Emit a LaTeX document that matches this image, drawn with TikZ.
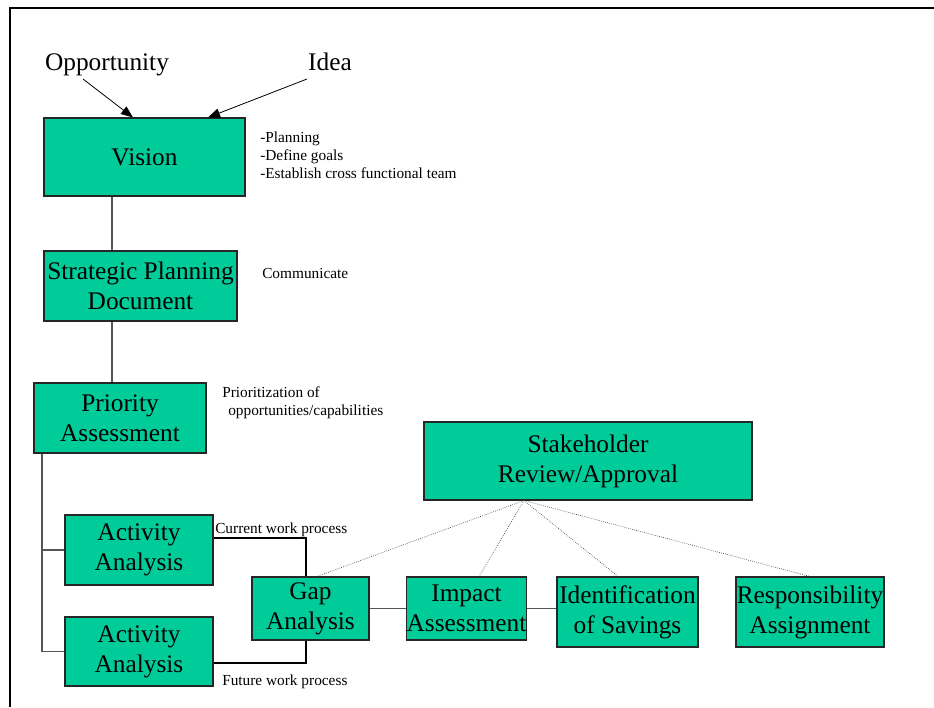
\documentclass[tikz,border=0pt]{standalone}
\usepackage{fontspec}
\setmainfont{Liberation Serif}
\usepackage{tikz}
\usetikzlibrary{arrows.meta, positioning, calc}
\definecolor{boxgreen}{HTML}{00CC99}
\definecolor{edge}{HTML}{555555}
\newcommand{\bigtxt}{\fontsize{19pt}{22.5pt}\selectfont}
\newcommand{\smalltxt}{\fontsize{11.5pt}{13.5pt}\selectfont}
\tikzset{
  blkstage/.style = {draw=black!85, line width=0.8pt, fill=boxgreen,
                     inner sep=0pt, font=\bigtxt, align=center},
  blktxt/.style   = {inner sep=0pt, font=\bigtxt, anchor=base},
  note/.style     = {inner sep=0pt, font=\smalltxt, align=left, anchor=west},
  flow/.style     = {-{Triangle[length=9pt, width=7pt]}, line width=0.6pt},
  link/.style     = {draw=edge, line width=1.1pt},
  elbow/.style    = {line width=0.8pt},
  review/.style   = {densely dotted, line width=0.5pt, draw=black!75},
}

\begin{document}
\begin{tikzpicture}[x=0.75pt, y=-0.75pt]
    \useasboundingbox (0,0) rectangle (934,707);
    % page frame
    \draw[line width=1.5pt] (10,707) -- (10,8) -- (934,8);

    % Column : vision -> priority
    \node[blktxt]                                   (opp)    at (107,70)    {Opportunity};
    \node[blktxt]                                   (idea)   at (330,70)    {Idea};
    \node[blkstage, minimum width=150.75pt, minimum height=58.5pt]  (vision) at (144.5,157) {Vision};
    \node[blkstage, minimum width=144.75pt, minimum height=52.5pt]  (spd)    at (140.5,286) {Strategic Planning\\Document};
    \node[blkstage, minimum width=129pt, minimum height=52.5pt]     (prio)   at (120,418)   {Priority\\Assessment};
    \node[blkstage, minimum width=111pt, minimum height=52.5pt]     (act1)   at (139,550)   {Activity\\Analysis};
    \node[blkstage, minimum width=111pt, minimum height=51.75pt]    (act2)   at (139,651.5) {Activity\\Analysis};

    % Row : gap -> responsibility
    \node[blkstage, minimum width=87.75pt, minimum height=47.25pt]  (gap)    at (310.5,608.5) {Gap\\Analysis};
    \node[blkstage, minimum width=87.75pt, minimum height=47.25pt]  (impact) at (466.5,608.5) {Impact\\Assessment};
    \node[blkstage, minimum width=105.75pt, minimum height=52.5pt]  (ident)  at (627.5,612)   {Identification\\of Savings};
    \node[blkstage, minimum width=111pt, minimum height=52.5pt]     (resp)   at (810,612)     {Responsibility\\Assignment};
    \node[blkstage, minimum width=246pt, minimum height=58.5pt]     (stake)  at (588,461)     {Stakeholder\\Review/Approval};
    \coordinate (hub) at ($(stake.south)+(-64,0)$);

    % notes
    \node[note] (nvision) at (260,155) {-Planning\\-Define goals\\-Establish cross functional team};
    \node[note] (nspd)    at (262,273) {Communicate};
    \node[note] (nprio)   at (222,403) {Prioritization of\\\hspace*{4.5pt}opportunities/capabilities};
    \node[note] (ncur)    at (215,530) {Current work process};
    \node[note] (nfut)    at (222,682) {Future work process};

    \draw[flow] ($(opp.base)+(-24,9)$) -- ($(vision.north)+(-11.5,0)$);
    \draw[flow] ($(idea.base)+(-23,9)$) -- ($(vision.north)+(63.5,0)$);
    \draw[link] (vision.south -| 112,0) -- (spd.north -| 112,0);
    \draw[link] (spd.south -| 112,0) -- (prio.north -| 112,0);
    \draw[link] (prio.south -| 42,0) |- (act1.west);
    \draw[link] (prio.south -| 42,0) |- (act2.west);
    \draw[elbow] ($(act1.east)+(0,-12)$) -| ($(gap.north)+(-4.5,0)$);
    \draw[elbow] ($(act2.east)+(0,11.5)$) -| ($(gap.south)+(-4.5,0)$);
    \draw[link] (gap.east) -- (impact.west);
    \draw[link] (impact.east) -- (impact.east -| ident.west);
    \draw[elbow] ($(ident.east)+(0,5)$) -- ($(ident.east)+(0,5)$ -| resp.west);

    % review lines
    \draw[review] (hub) -- ($(gap.north)+(6.5,0)$);
    \draw[review] (hub) -- ($(impact.north)+(12.5,0)$);
    \draw[review] (hub) -- ($(ident.north)+(-9.5,0)$);
    \draw[review] (hub) -- (resp.north);
  \end{tikzpicture}
\end{document}
